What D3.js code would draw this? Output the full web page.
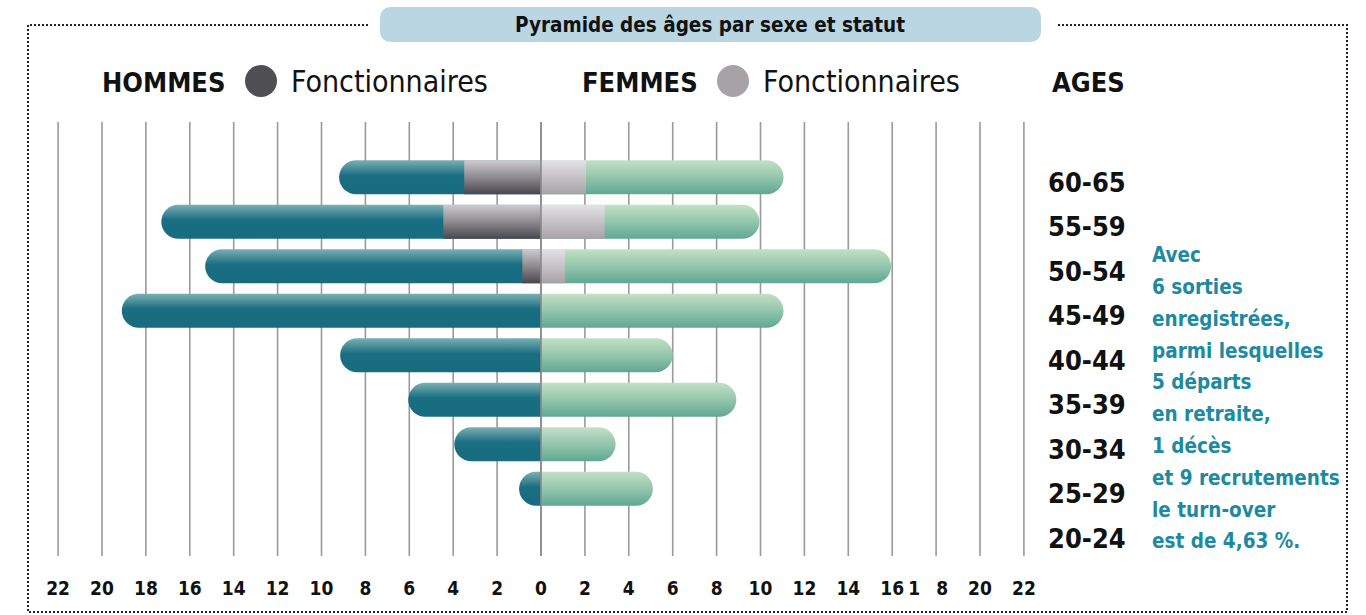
<!DOCTYPE html>
<html>
<head>
<meta charset="utf-8">
<script src="https://cdn.jsdelivr.net/npm/d3@7"></script>
<style>
  html, body { margin: 0; padding: 0; background: #fff; }
  svg { display: block; }
</style>
</head>
<body>
<div id="chart"></div>
<script>
// Data
const ages = ["60-65", "55-59", "50-54", "45-49", "40-44", "35-39", "30-34", "25-29", "20-24"];
const hommes = [9.2, 17.3, 15.3, 19.1, 9.15, 6.05, 3.95, 1.0, 0];
const hommesFonct = [3.5, 4.45, 0.85, 0, 0, 0, 0, 0, 0];
const femmes = [11.05, 9.95, 15.95, 11.05, 6.0, 8.9, 3.4, 5.1, 0];
const femmesFonct = [2.05, 2.9, 1.1, 0, 0, 0, 0, 0, 0];
const tickValues = d3.range(-22, 23, 2);
const noteLines = ["Avec", "6 sorties", "enregistrées,", "parmi lesquelles", "5 départs",
  "en retraite,", "1 décès", "et 9 recrutements", "le turn-over", "est de 4,63 %."];

const width = 1366, height = 615;
const font = "'DejaVu Sans Condensed', 'Liberation Sans Narrow', sans-serif";

const svg = d3.select("#chart").append("svg")
    .attr("width", width)
    .attr("height", height)
    .style("font-family", font);

const defs = svg.append("defs");
function grad(id, stops) {
    const g = defs.append("linearGradient").attr("id", id)
        .attr("x1", 0).attr("y1", 0).attr("x2", 0).attr("y2", 1);
    stops.forEach(s => g.append("stop").attr("offset", s[0]).attr("stop-color", s[1]));
}
grad("gMen", [[0, "#7ab0b4"], [0.45, "#1a6e81"], [1, "#186c80"]]);
grad("gWomen", [[0, "#c3e0c5"], [0.5, "#93c6ac"], [1, "#60a793"]]);
grad("gMenF", [[0, "#cecbd0"], [0.5, "#8d8a90"], [1, "#48474c"]]);
grad("gWomenF", [[0, "#e4e2e6"], [1, "#a7a2a6"]]);

// scales
const x = d3.scaleLinear().domain([-22, 22]).range([58.1, 1023.9]);
const y = d3.scaleBand().domain(ages).range([155, 555.5]).paddingInner(0.236).paddingOuter(0.118);
const bh = y.bandwidth();

// dotted frame
const frame = svg.append("g")
    .attr("fill", "none").attr("stroke", "#222")
    .attr("stroke-width", 2).attr("stroke-dasharray", "2,2");
frame.append("path").attr("d", "M368,25 H28 V612 H1347 V25 H1058");

// title box
svg.append("rect")
    .attr("x", 380).attr("y", 7).attr("width", 661).attr("height", 35)
    .attr("rx", 10).attr("fill", "#bad6e2");
svg.append("text")
    .attr("x", 710).attr("y", 25).attr("dy", "0.35em")
    .attr("text-anchor", "middle").attr("font-weight", "bold")
    .attr("font-size", 20.5).attr("fill", "#111")
    .text("Pyramide des âges par sexe et statut");

// legend
const legend = svg.append("g").attr("font-size", 27).attr("fill", "#111");
legend.append("text").attr("x", 102).attr("y", 92).attr("font-weight", "bold").text("HOMMES");
legend.append("circle").attr("cx", 261).attr("cy", 81).attr("r", 16).attr("fill", "#4f4e53");
legend.append("text").attr("x", 291).attr("y", 92).attr("font-size", 30).text("Fonctionnaires");
legend.append("text").attr("x", 582).attr("y", 92).attr("font-weight", "bold").text("FEMMES");
legend.append("circle").attr("cx", 733).attr("cy", 81).attr("r", 16).attr("fill", "#a6a2a5");
legend.append("text").attr("x", 763).attr("y", 92).attr("font-size", 30).text("Fonctionnaires");
legend.append("text").attr("x", 1052).attr("y", 92).attr("font-weight", "bold").text("AGES");

// grid
svg.append("g").selectAll("line").data(tickValues).join("line")
    .attr("x1", d => x(d)).attr("x2", d => x(d))
    .attr("y1", 122).attr("y2", 556)
    .attr("stroke", "#9a9a9a").attr("stroke-width", 1.6);

// bar with rounded outer end
function barPath(v, top) {
    const x0 = x(0), x1 = x(v);
    const w = Math.abs(x1 - x0);
    if (w <= 0) return "";
    const r = Math.min(bh / 2, w);
    const s = v < 0 ? -1 : 1;
    const b = top + bh;
    return `M${x0},${top} H${x1 - s * r} A${r},${bh / 2} 0 0 ${s > 0 ? 1 : 0} ${x1 - s * r},${b} H${x0} Z`;
}

const rows = ages.map((a, i) => ({ age: a, h: hommes[i], hf: hommesFonct[i], f: femmes[i], ff: femmesFonct[i] }));
const bars = svg.append("g");
rows.forEach(d => {
    const top = y(d.age);
    if (d.h > 0) bars.append("path").attr("d", barPath(-d.h, top)).attr("fill", "url(#gMen)");
    if (d.f > 0) bars.append("path").attr("d", barPath(d.f, top)).attr("fill", "url(#gWomen)");
    if (d.hf > 0) bars.append("rect").attr("x", x(-d.hf)).attr("y", top)
        .attr("width", x(0) - x(-d.hf)).attr("height", bh).attr("fill", "url(#gMenF)");
    if (d.ff > 0) bars.append("rect").attr("x", x(0)).attr("y", top)
        .attr("width", x(d.ff) - x(0)).attr("height", bh).attr("fill", "url(#gWomenF)");
});

// center line above the bars
svg.append("line")
    .attr("x1", x(0)).attr("x2", x(0)).attr("y1", 122).attr("y2", 556)
    .attr("stroke", "#8a8a8a").attr("stroke-width", 1.6);

// tick labels
const tl = svg.append("g").attr("font-size", 19).attr("font-weight", "bold")
    .attr("fill", "#111").attr("text-anchor", "middle");
tickValues.forEach(v => {
    const t = tl.append("text").attr("x", x(v)).attr("y", 588).attr("dy", "0.35em");
    if (v === 18) {
        // the reference prints this label split as "1 8"
        t.append("tspan").attr("x", x(v) - 22).text("1");
        t.append("tspan").attr("x", x(v) + 6).text("8");
    } else {
        t.text(Math.abs(v));
    }
});

// age labels
svg.append("g").selectAll("text").data(ages).join("text")
    .attr("x", 1048).attr("y", d => y(d) + bh / 2 + 5).attr("dy", "0.35em")
    .attr("font-size", 27).attr("font-weight", "bold").attr("fill", "#111")
    .text(d => d);

// note
svg.append("g").selectAll("text").data(noteLines).join("text")
    .attr("x", 1152).attr("y", (d, i) => 255 + i * 31.8).attr("dy", "0.35em")
    .attr("font-size", 20.5).attr("font-weight", "bold").attr("fill", "#1d8aa1")
    .text(d => d);
</script>
</body>
</html>
